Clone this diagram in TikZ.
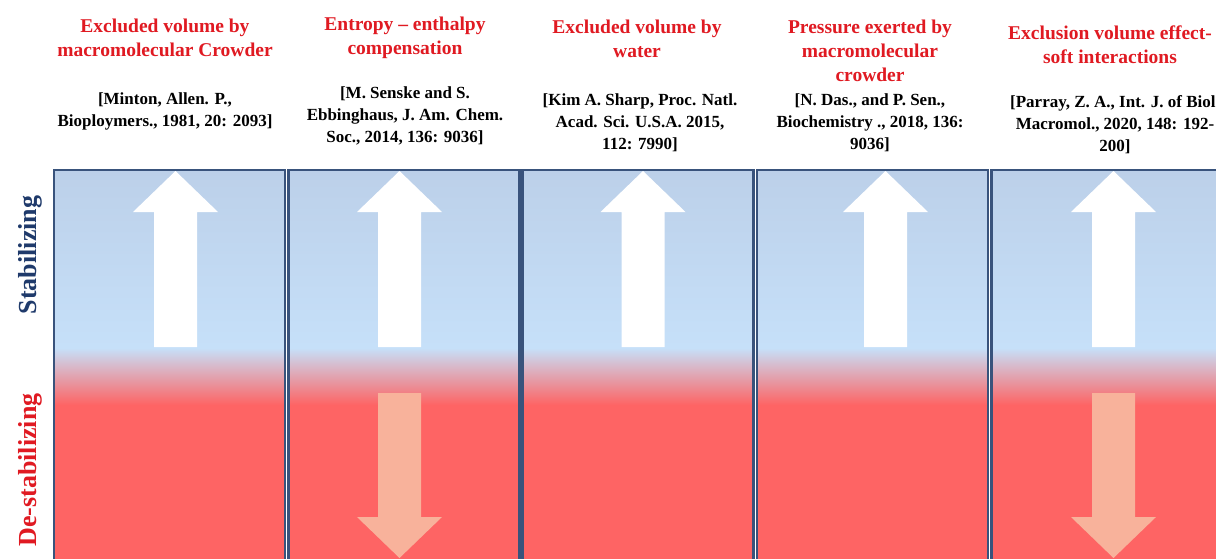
\documentclass[tikz,border=0pt]{standalone}
\usepackage{fontspec}
\setmainfont{Liberation Serif}
\definecolor{titlered}{HTML}{E01A22}
\definecolor{navy}{HTML}{1F3A6B}
\definecolor{topblue}{HTML}{BCD0E9}
\definecolor{midblue}{HTML}{C6E0F9}
\definecolor{panelred}{HTML}{FE6464}
\definecolor{borderblue}{HTML}{39537C}
\definecolor{downfill}{HTML}{F8B29B}
\begin{document}
\begin{tikzpicture}[x=1pt,y=-1pt,
  titletext/.style={text=titlered,align=center,font=\bfseries\fontsize{19.5}{24}\selectfont,inner sep=0pt},
  reftext/.style={text=black,align=center,font=\bfseries\fontsize{17}{22}\selectfont,inner sep=0pt},
  sidelabel/.style={rotate=90,font=\bfseries\fontsize{26}{30}\selectfont,inner sep=0pt},
  panelborder/.style={draw=borderblue,line width=2.1pt},
  uparrow/.style={fill=white},
  downarrow/.style={fill=downfill}]
\useasboundingbox (0,0) rectangle (1216,558);
\fill[white] (0,0) rectangle (1216,558);
% panels
\foreach \x in {54,288.5,522.5,757,991.5}{
  \shade[top color=topblue,bottom color=midblue] (\x,170) rectangle ++(231,178);
  \shade[top color=midblue,bottom color=panelred] (\x,348) rectangle ++(231,57);
  \fill[panelred] (\x,405) rectangle ++(231,170);
}
% up arrows
\foreach \c in {175.5,399.5,643,885.5,1113.5}{
  \fill[uparrow] (\c-21.5,347) -- (\c-21.5,212) -- (\c-42.5,212) -- (\c,171) -- (\c+42.5,212) -- (\c+21.5,212) -- (\c+21.5,347) -- cycle;
}
% down arrows
\foreach \c in {399.5,1113.5}{
  \fill[downarrow] (\c-21.5,393) -- (\c+21.5,393) -- (\c+21.5,517) -- (\c+42.5,517) -- (\c,558) -- (\c-42.5,517) -- (\c-21.5,517) -- cycle;
}
\foreach \x in {54,288.5,522.5,757,991.5}{
  \draw[panelborder] (\x,170) rectangle ++(231,405);
}
% side labels
\node[sidelabel,text=navy] (stab) at (30,255) {Stabilizing};
\node[sidelabel,text=titlered] (destab) at (30,470) {De-stabilizing};
% titles
\node[titletext] (t1) at (165,38) {Excluded volume by\\macromolecular Crowder};
\node[titletext] (t2) at (405,38) {Entropy -- enthalpy\\compensation};
\node[titletext] (t3) at (637,39) {Excluded volume by\\water};
\node[titletext] (t4) at (870,51) {Pressure exerted by\\macromolecular\\crowder};
\node[titletext] (t5) at (1110,45) {Exclusion volume effect-\\soft interactions};
% references
\node[reftext] (r1) at (165,111) {[Minton, Allen. P.,\\Bioploymers., 1981, 20: 2093]};
\node[reftext] (r2) at (405,116) {[M. Senske and S.\\Ebbinghaus, J. Am. Chem.\\Soc., 2014, 136: 9036]};
\node[reftext] (r3) at (640,123) {[Kim A. Sharp, Proc. Natl.\\Acad. Sci. U.S.A. 2015,\\112: 7990]};
\node[reftext] (r4) at (870,123) {[N. Das., and P. Sen.,\\Biochemistry ., 2018, 136:\\9036]};
\node[reftext] (r5) at (1115,125) {[Parray, Z. A., Int. J. of Biol.\\Macromol., 2020, 148: 192-\\200]};
\end{tikzpicture}
\end{document}
